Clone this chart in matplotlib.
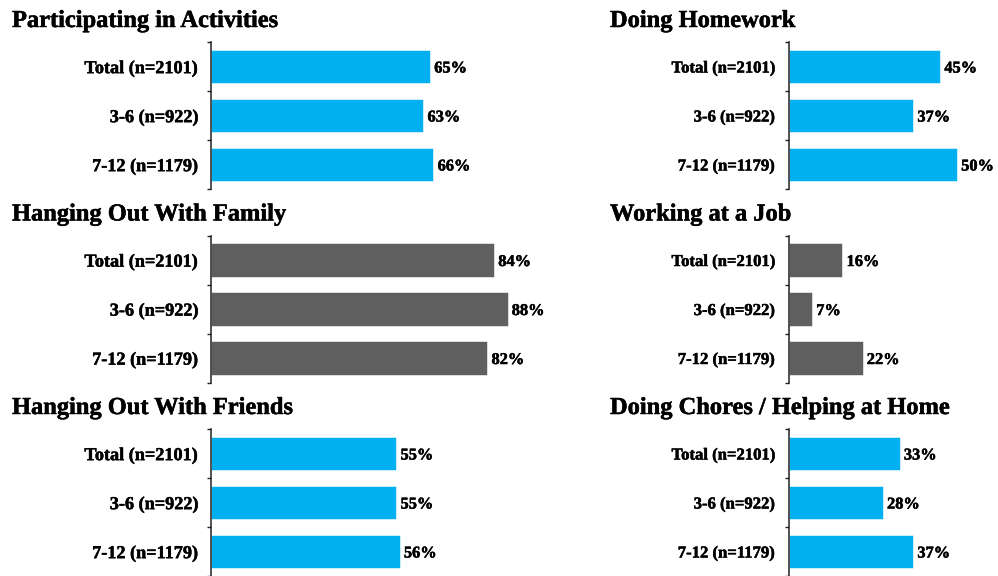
import matplotlib.pyplot as plt
import matplotlib.patheffects as pe

W, H = 998, 576

groups = ['Total (n=2101)', '3-6 (n=922)', '7-12 (n=1179)']

titles = ['Participating in Activities', 'Doing Homework',
          'Hanging Out With Family', 'Working at a Job',
          'Hanging Out With Friends', 'Doing Chores / Helping at Home']

activities = [65, 63, 66]
homework = [45, 37, 50]
family = [84, 88, 82]
job = [16, 7, 22]
friends = [55, 55, 56]
chores = [33, 28, 37]

values = [activities, homework, family, job, friends, chores]

BLUE = '#00B0F0'
GRAY = '#5F5F5F'
colors = [BLUE, BLUE, GRAY, GRAY, BLUE, BLUE]

plt.rcParams['font.family'] = ['Liberation Serif', 'DejaVu Serif']
plt.rcParams['font.weight'] = 'bold'

# slightly heavier strokes, the reference glyphs look fatter
heavy = [pe.withStroke(linewidth=0.35, foreground='black')]

PX_PER_PCT = 3.37
row_top = [42, 235.5, 429]
col_left = [211, 788.5]
col_title_x = [12, 610]
col_right = [560, 998]
label_size = [13.1, 12.0]
AX_H = 147

fig = plt.figure(figsize=(W / 100, H / 100), dpi=100)

for k, (title, vals, color) in enumerate(zip(titles, values, colors)):
    r, c = divmod(k, 2)
    x0 = col_left[c]
    width_px = col_right[c] - x0
    ax = fig.add_axes([x0 / W, 1 - (row_top[r] + AX_H) / H, width_px / W, AX_H / H])
    ax.set_facecolor('none')

    ypos = list(range(len(groups)))
    ax.barh(ypos, vals, height=0.68, color=color, edgecolor='white', linewidth=0.4)
    for y, v in zip(ypos, vals):
        ax.annotate(f'{v}%', (v, y), xytext=(3, 0), textcoords='offset points',
                    va='center_baseline', ha='left', fontsize=11.8, fontweight='bold',
                    path_effects=heavy)

    ax.set_xlim(0, width_px / PX_PER_PCT)
    ax.set_ylim(len(groups) - 0.5, -0.5)
    ax.set_yticks(ypos)
    ax.set_yticklabels(groups, fontsize=label_size[c], fontweight='bold')
    for t in ax.get_yticklabels():
        t.set_path_effects(heavy)
    ax.set_yticks([i - 0.5 for i in range(len(groups) + 1)], minor=True)
    ax.tick_params(axis='y', which='major', length=0, pad=9.6)
    ax.tick_params(axis='y', which='minor', length=3, width=1, direction='out', color='#222222')
    ax.set_xticks([])
    for s in ['top', 'right', 'bottom']:
        ax.spines[s].set_visible(False)
    ax.spines['left'].set_color('#222222')
    ax.spines['left'].set_linewidth(1.1)

    fig.text(col_title_x[c] / W, 1 - (row_top[r] - 15) / H, title,
             fontsize=17.6, fontweight='bold', va='baseline', ha='left',
             path_effects=heavy)

fig.savefig('out.png', dpi=100)
